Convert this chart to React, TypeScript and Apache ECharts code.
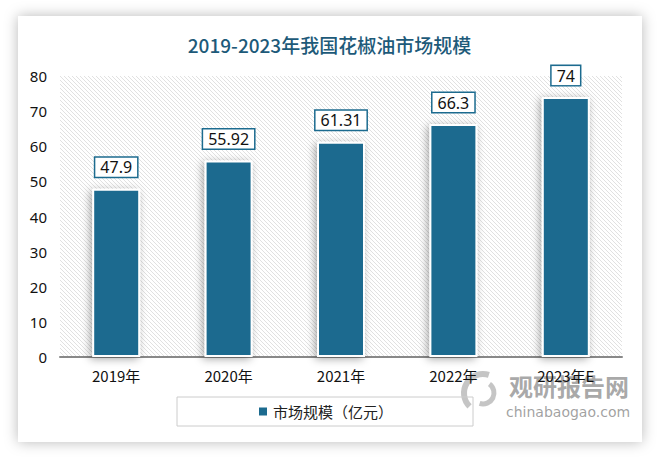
import React, { useEffect, useRef } from "react";
import * as echarts from "echarts";

const categories = ["2019年", "2020年", "2021年", "2022年", "2023年E"];
const values = [47.9, 55.92, 61.31, 66.3, 74];
const seriesName = "市场规模（亿元）";
const titleText = "2019-2023年我国花椒油市场规模";

function makeHatch(): HTMLCanvasElement {
  const c = document.createElement("canvas");
  c.width = 4;
  c.height = 4;
  const ctx = c.getContext("2d")!;
  ctx.fillStyle = "#ffffff";
  ctx.fillRect(0, 0, 4, 4);
  ctx.strokeStyle = "#dedede";
  ctx.lineWidth = 0.9;
  ctx.beginPath();
  ctx.moveTo(-1, -1);
  ctx.lineTo(5, 5);
  ctx.moveTo(-1, 3);
  ctx.lineTo(1, 5);
  ctx.moveTo(3, -1);
  ctx.lineTo(5, 1);
  ctx.stroke();
  return c;
}

export default function App() {
  const ref = useRef<HTMLDivElement>(null);
  useEffect(() => {
    if (!ref.current) return;
    const chart = echarts.init(ref.current, undefined, { renderer: "svg" });
    const hatch = makeHatch();
    const barColor = "#1c6b8f";
    chart.setOption({
      animation: false,
      backgroundColor: "#ffffff",
      graphic: [
        {
          type: "rect",
          z: -10,
          silent: true,
          shape: { x: 18, y: 16, width: 624, height: 426 },
          style: {
            fill: "#ffffff",
            shadowBlur: 14,
            shadowColor: "rgba(0,0,0,0.28)",
            shadowOffsetX: 0,
            shadowOffsetY: 0,
          },
        },
        {
          type: "rect",
          z: -9,
          silent: true,
          shape: { x: 60, y: 76, width: 562, height: 281 },
          style: { fill: { image: hatch, repeat: "repeat" } as any },
        },
        {
          type: "group",
          z: 100,
          silent: true,
          children: [
            {
              type: "arc",
              shape: { cx: 483, cy: 393, r: 19, startAngle: Math.PI * 0.75, endAngle: Math.PI * 1.6 },
              style: { stroke: "rgba(150,150,150,0.55)", lineWidth: 6, fill: "none" },
            },
            {
              type: "arc",
              shape: { cx: 483, cy: 393, r: 11, startAngle: Math.PI * 1.7, endAngle: Math.PI * 2.6 },
              style: { stroke: "rgba(150,150,150,0.55)", lineWidth: 5, fill: "none" },
            },
            {
              type: "text",
              x: 509,
              y: 373,
              style: {
                text: "观研报告网",
                font: "bold 24px 'Noto Sans CJK SC', sans-serif",
                fill: "rgba(130,130,130,0.7)",
              },
            },
            {
              type: "text",
              x: 506,
              y: 405,
              style: {
                text: "chinabaogao.com",
                font: "14px 'DejaVu Sans', sans-serif",
                fill: "rgba(130,130,130,0.75)",
              },
            },
          ],
        },
      ],
      title: {
        text: titleText,
        left: "center",
        top: 30,
        textStyle: {
          fontSize: 19,
          fontWeight: 500,
          color: "#1d5a79",
          fontFamily: "'Noto Sans CJK SC', sans-serif",
        },
      },
      legend: {
        data: [seriesName],
        left: 177,
        top: 397,
        width: 255,
        padding: [7, 80, 7, 80],
        borderColor: "#cccccc",
        borderWidth: 1,
        itemWidth: 10,
        itemHeight: 10,
        icon: "rect",
        itemGap: 6,
        textStyle: {
          fontSize: 15,
          color: "#222222",
          fontFamily: "'Noto Sans CJK SC', sans-serif",
        },
      },
      grid: { left: 60, right: 37, top: 76, bottom: 101 },
      xAxis: {
        type: "category",
        data: categories,
        axisLine: { lineStyle: { color: "#888888", width: 2 } },
        axisTick: { show: false },
        axisLabel: {
          fontSize: 15,
          color: "#111111",
          margin: 11,
          fontFamily: "'Noto Sans CJK SC', sans-serif",
        },
      },
      yAxis: {
        type: "value",
        min: 0,
        max: 80,
        interval: 10,
        splitLine: { show: false },
        axisLine: { show: false },
        axisTick: { show: false },
        axisLabel: {
          fontSize: 15,
          color: "#111111",
          margin: 13,
          fontFamily: "'Noto Sans', sans-serif",
        },
      },
      series: [
        {
          name: seriesName,
          type: "bar",
          data: values,
          barWidth: 48,
          itemStyle: {
            color: barColor,
            borderColor: "#ffffff",
            borderWidth: 2,
            shadowBlur: 8,
            shadowColor: "rgba(0,0,0,0.35)",
            shadowOffsetX: -2,
            shadowOffsetY: 2,
          },
          label: {
            show: true,
            position: "top",
            distance: 12,
            fontSize: 16,
            color: "#111111",
            fontFamily: "'Noto Sans', sans-serif",
            backgroundColor: "#ffffff",
            borderColor: barColor,
            borderWidth: 1.5,
            padding: [1, 5, 1, 5],
            lineHeight: 17,
          },
        },
      ],
    });
    return () => chart.dispose();
  }, []);
  return (
    <div
      ref={ref}
      style={{ position: "fixed", left: 0, top: 0, width: 659, height: 458 }}
    />
  );
}
